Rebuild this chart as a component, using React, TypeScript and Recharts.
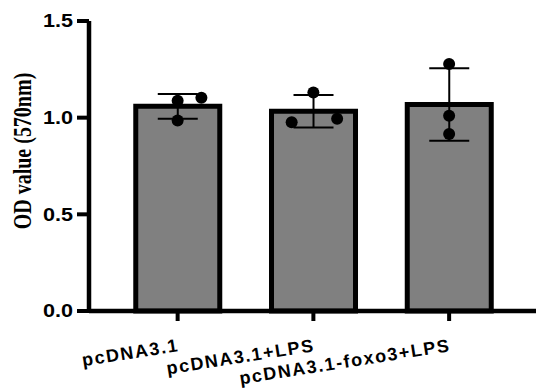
import React from 'react';
import { ComposedChart, Bar, ErrorBar, Scatter, XAxis, YAxis, Label } from 'recharts';

const categories = ['pcDNA3.1', 'pcDNA3.1+LPS', 'pcDNA3.1-foxo3+LPS'];
const means = [1.059, 1.033, 1.068];
const sds = [0.064, 0.084, 0.187];

// replicate points: category index + small horizontal spread, and OD value
const pointGroup = [0, 0, 0, 1, 1, 1, 2, 2, 2];
const pointSpread = [0, 0.175, 0, -0.16, 0, 0.175, 0, 0, 0];
const pointValues = [1.088, 1.103, 0.985, 0.976, 1.13, 0.994, 1.277, 1.01, 0.916];

const yTicks = [0, 0.5, 1.0, 1.5];
const xDomain = [-0.653, 2.64];

const barData = categories.map((name, i) => ({ pos: i, name, mean: means[i], sd: sds[i] }));
const pointData = pointValues.map((v, i) => ({ pos: pointGroup[i] + pointSpread[i], value: v }));

const SANS = 'Liberation Sans, Arial, sans-serif';

const renderXTick = (props: any) => {
  const { x, y, payload } = props;
  const tx = x + 2;
  const ty = y + 28;
  return (
    <text
      key={`xt-${payload.value}`}
      x={tx}
      y={ty}
      transform={`rotate(-9 ${tx} ${ty})`}
      textAnchor="end"
      fontFamily={SANS}
      fontWeight="bold"
      fontSize={18}
      letterSpacing={1.6}
      fill="#000"
    >
      {categories[payload.value]}
    </text>
  );
};

const renderYTick = (props: any) => {
  const { x, y, payload } = props;
  return (
    <g transform={`translate(${x},${y})`}>
      <text
        x={0}
        y={0}
        transform="scale(1.2,1)"
        textAnchor="end"
        dominantBaseline="central"
        fontFamily={SANS}
        fontWeight="bold"
        fontSize={18}
        fill="#000"
      >
        {payload.value.toFixed(1)}
      </text>
    </g>
  );
};

const Dot = (props: any) => <circle cx={props.cx} cy={props.cy} r={6} fill="#000" />;

export default function App() {
  return (
    <div style={{ position: 'absolute', left: 0, top: 0, background: '#fff' }}>
      <ComposedChart
        width={536}
        height={391}
        data={barData}
        margin={{ top: 21, right: 0, bottom: 0, left: 0 }}
      >
        <XAxis
          xAxisId="bars"
          dataKey="pos"
          type="number"
          domain={xDomain}
          allowDataOverflow
          ticks={[0, 1, 2]}
          height={80}
          tickSize={10}
          axisLine={{ stroke: '#000', strokeWidth: 4.5 }}
          tickLine={{ stroke: '#000', strokeWidth: 4 }}
          tick={renderXTick}
          interval={0}
        />
        <XAxis
          xAxisId="pts"
          dataKey="pos"
          type="number"
          domain={xDomain}
          allowDataOverflow
          hide
        />
        <YAxis
          type="number"
          domain={[0, 1.5]}
          ticks={yTicks}
          width={89}
          tickSize={12}
          tickMargin={4}
          axisLine={{ stroke: '#000', strokeWidth: 4.5 }}
          tickLine={{ stroke: '#000', strokeWidth: 4 }}
          tick={renderYTick}
          interval={0}
        >
          <Label
            content={() => (
              <text
                transform="translate(23,151) rotate(-90) scale(1,1.25)"
                textAnchor="middle"
                dominantBaseline="central"
                fontFamily="Liberation Serif, Times New Roman, serif"
                fontWeight="bold"
                fontSize={20}
                fill="#000"
              >
                OD value (570nm)
              </text>
            )}
          />
        </YAxis>
        <Bar
          xAxisId="bars"
          dataKey="mean"
          fill="#808080"
          stroke="#000"
          strokeWidth={5}
          barSize={84}
          isAnimationActive={false}
        >
          <ErrorBar dataKey="sd" width={20} stroke="#000" strokeWidth={2} direction="y" />
        </Bar>
        <Scatter
          xAxisId="pts"
          data={pointData}
          dataKey="value"
          fill="#000"
          shape={<Dot />}
          isAnimationActive={false}
        />
      </ComposedChart>
    </div>
  );
}
